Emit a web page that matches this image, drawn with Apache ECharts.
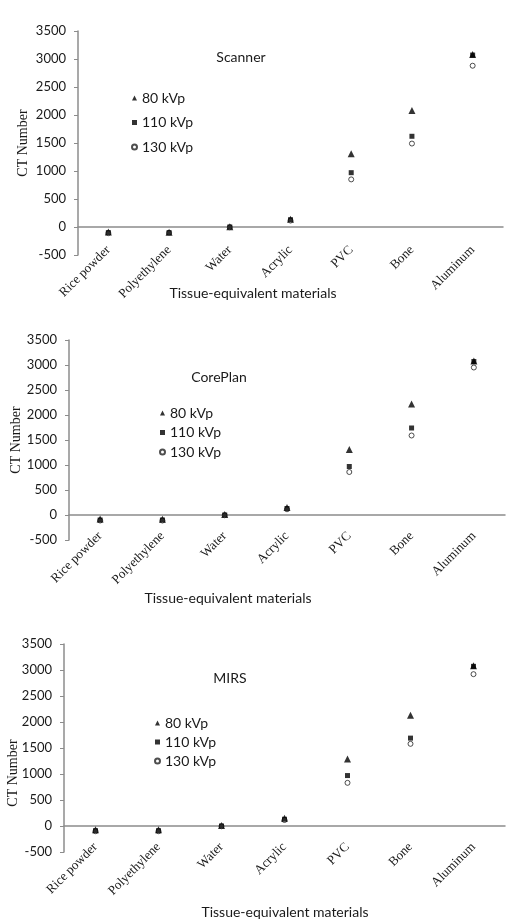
<!DOCTYPE html>
<html>
<head>
<meta charset="utf-8">
<script src="https://cdn.jsdelivr.net/npm/echarts@6/dist/echarts.min.js"></script>
<style>
html,body{margin:0;padding:0;background:#fff;}
#chart{width:516px;height:921px;}
</style>
</head>
<body>
<div id="chart"></div>
<script>
const categories = ['Rice powder', 'Polyethylene', 'Water', 'Acrylic', 'PVC', 'Bone', 'Aluminum'];
const seriesNames = ['80 kVp', '110 kVp', '130 kVp'];
const panelTitles = ['Scanner', 'CorePlan', 'MIRS'];
const yMin = -500, yMax = 3500, yStep = 500;

const scanner80  = [-90, -95, 5, 140, 1310, 2080, 3080];
const scanner110 = [-100, -100, 0, 130, 970, 1620, 3070];
const scanner130 = [-110, -105, -5, 115, 850, 1490, 2880];

const corePlan80  = [-80, -85, 10, 150, 1310, 2220, 3080];
const corePlan110 = [-100, -100, 0, 130, 970, 1740, 3070];
const corePlan130 = [-110, -110, -5, 115, 860, 1590, 2950];

const mirs80  = [-70, -70, 10, 150, 1290, 2130, 3080];
const mirs110 = [-90, -90, 0, 130, 970, 1690, 3070];
const mirs130 = [-100, -100, -5, 115, 830, 1580, 2920];

const panelData = [
  [scanner80, scanner110, scanner130],
  [corePlan80, corePlan110, corePlan130],
  [mirs80, mirs110, mirs130]
];

// layout
const grids = [
  {left: 78, top: 31, width: 425, height: 224},
  {left: 69, top: 340, width: 436, height: 200},
  {left: 64, top: 644, width: 441, height: 208}
];
const catLabelMargin = [-7, -6, -7];
const titlePos = [[241, 57], [219, 377], [230, 678]];
const xNamePos = [[253, 293], [228, 598], [285, 912]];
const yNamePos = [[23, 143], [16, 440], [13, 773]];
const legendPos = [[131, 91, 10.5], [159, 406, 5.5], [154, 716, 5]];

const sansFont = 'Lato, "Open Sans", sans-serif';
const serifFont = '"Liberation Serif", "DejaVu Serif", serif';
const textColor = '#1a1a1a';
const axisColor = '#8c8c8c';

const symbols = ['triangle', 'rect', 'circle'];
const symbolSizes = [7, 5, 5];
const itemStyles = [
  {color: '#000'},
  {color: '#000'},
  {color: '#fff', borderColor: '#222', borderWidth: 1}
];

const xAxes = [], yAxes = [], series = [], legends = [], graphics = [];
grids.forEach((g, i) => {
  xAxes.push({
    type: 'category', gridIndex: i, data: categories, position: 'bottom',
    boundaryGap: true,
    axisLine: {show: false, onZero: false},
    axisTick: {show: false},
    axisLabel: {rotate: 45, margin: catLabelMargin[i], interval: 0, fontFamily: serifFont, fontSize: 13, color: textColor}
  });
  xAxes.push({
    type: 'category', gridIndex: i, data: categories, position: 'bottom',
    axisLine: {show: true, onZero: true, lineStyle: {color: axisColor, width: 1.5}},
    axisTick: {show: false},
    axisLabel: {show: false}
  });
  yAxes.push({
    type: 'value', gridIndex: i, min: yMin, max: yMax, interval: yStep,
    axisLine: {show: true, lineStyle: {color: axisColor, width: 1.5}},
    axisTick: {show: true, length: 4, lineStyle: {color: axisColor}},
    splitLine: {show: false},
    axisLabel: {margin: 12, fontFamily: sansFont, fontSize: 13, color: textColor, formatter: v => String(v)}
  });
  panelData[i].forEach((vals, k) => {
    series.push({
      type: 'scatter', name: seriesNames[k], xAxisIndex: 2 * i, yAxisIndex: i,
      data: vals, symbol: symbols[k], symbolSize: symbolSizes[k],
      itemStyle: itemStyles[k], z: 3 + (k === 1 ? 1 : 0), silent: true
    });
  });
  legends.push({
    orient: 'vertical', left: legendPos[i][0], top: legendPos[i][1],
    padding: 0,
    itemWidth: 5, itemHeight: 5, itemGap: legendPos[i][2],
    selectedMode: false,
    textStyle: {fontFamily: sansFont, fontSize: 14, color: textColor},
    data: seriesNames.map((n, k) => ({name: n, icon: symbols[k]}))
  });
  graphics.push({
    type: 'text', x: titlePos[i][0], y: titlePos[i][1],
    style: {text: panelTitles[i], font: '14px ' + sansFont, fill: textColor, align: 'center', verticalAlign: 'middle'}
  });
  graphics.push({
    type: 'text', x: xNamePos[i][0], y: xNamePos[i][1],
    style: {text: 'Tissue-equivalent materials', font: '14px ' + sansFont, fill: textColor, align: 'center', verticalAlign: 'middle'}
  });
  graphics.push({
    type: 'text', x: yNamePos[i][0], y: yNamePos[i][1], rotation: Math.PI / 2,
    style: {text: 'CT Number', font: '14px ' + serifFont, fill: textColor, align: 'center', verticalAlign: 'middle'}
  });
});

const chart = echarts.init(document.getElementById('chart'), null, {renderer: 'canvas'});
chart.setOption({
  animation: false,
  backgroundColor: '#fff',
  grid: grids,
  xAxis: xAxes,
  yAxis: yAxes,
  legend: legends,
  series: series,
  graphic: graphics
});
</script>
</body>
</html>
